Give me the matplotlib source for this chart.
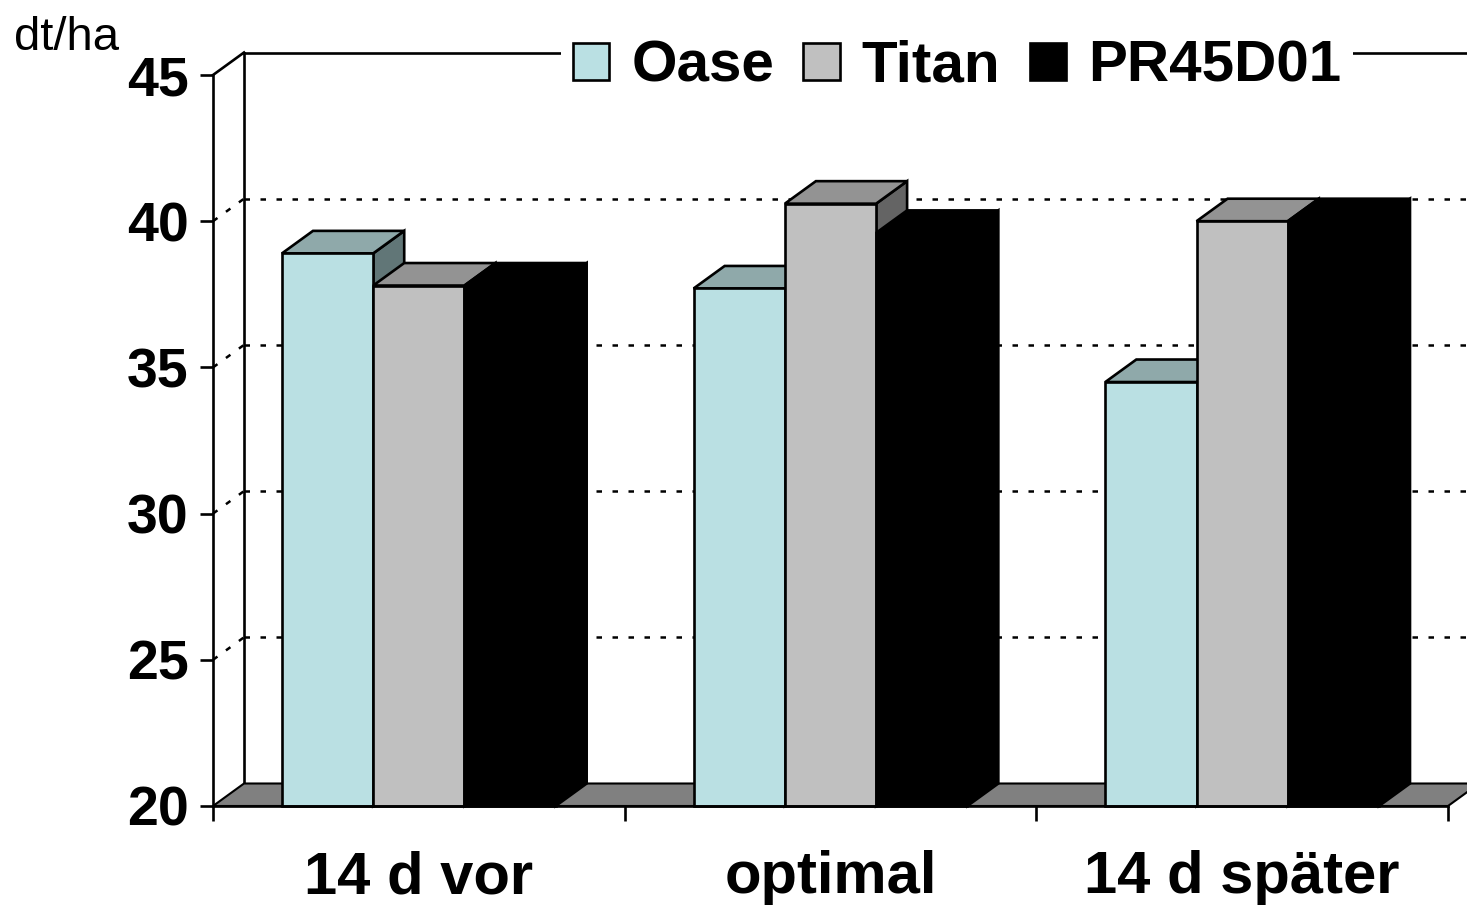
import matplotlib
matplotlib.use("Agg")
import matplotlib.pyplot as plt
from matplotlib.patches import Polygon, Patch

plt.rcParams['font.family'] = ['Liberation Sans', 'DejaVu Sans']

categories = ['14 d vor', 'optimal', '14 d später']
series = ['Oase', 'Titan', 'PR45D01']
oase = [38.9, 37.7, 34.5]
titan = [37.8, 40.6, 40.0]
pr45d01 = [37.8, 39.6, 40.0]
yticks = [20, 25, 30, 35, 40, 45]

# front, top, side colours for each series
colors = {
    'Oase': ('#bae0e3', '#8fa9aa', '#617677'),
    'Titan': ('#c0c0c0', '#939393', '#646464'),
    'PR45D01': ('#000000', '#000000', '#000000'),
}

W, H = 1467, 907
fig = plt.figure(figsize=(W / 100, H / 100), dpi=100)
ax = fig.add_axes([213 / W, 101 / H, 1235 / W, 731 / H])
ax.set_xlim(0, 3)
ax.set_ylim(20, 45)

# depth offset of the 3d look, in data units
dx = 31 / 411.7
dy = 22.5 / 29.24
ymin, ymax = 20, 45
xmax = len(categories)
lw = 1.9

# floor
floor = Polygon([(0, ymin), (xmax, ymin), (xmax + dx, ymin + dy), (dx, ymin + dy)],
                closed=True, facecolor='#808080', edgecolor='black', lw=1.5,
                zorder=1, clip_on=False)
ax.add_patch(floor)

# back wall grid
for v in yticks[1:-1]:
    ax.plot([0, dx], [v, v + dy], color='black', lw=1.8, ls=(0, (2.2, 4.2)),
            zorder=0.5, clip_on=False)
    ax.plot([dx, xmax + dx], [v + dy, v + dy], color='black', lw=1.8,
            ls=(0, (2.2, 4.2)), zorder=0.5, clip_on=False)
ax.plot([0, dx], [ymax, ymax + dy], color='black', lw=lw, zorder=0.5, clip_on=False)
ax.plot([dx, xmax + dx], [ymax + dy, ymax + dy], color='black', lw=lw,
        zorder=0.5, clip_on=False)
ax.plot([dx, dx], [ymin + dy, ymax + dy], color='black', lw=lw, zorder=0.5,
        clip_on=False)

# bars
bw = 0.2216
gap = (1 - 3 * bw) / 2
data = [oase, titan, pr45d01]
for i in range(len(categories)):
    for j, name in enumerate(series):
        v = data[j][i]
        x0 = i + gap + j * bw
        x1 = x0 + bw
        front, top, side = colors[name]
        z = 2 + i * 3 + j
        ax.add_patch(Polygon([(x1, ymin), (x1 + dx, ymin + dy), (x1 + dx, v + dy), (x1, v)],
                             facecolor=side, edgecolor='black', lw=lw, zorder=z,
                             clip_on=False, joinstyle='miter'))
        ax.add_patch(Polygon([(x0, v), (x1, v), (x1 + dx, v + dy), (x0 + dx, v + dy)],
                             facecolor=top, edgecolor='black', lw=lw, zorder=z,
                             clip_on=False, joinstyle='miter'))
        ax.add_patch(Polygon([(x0, ymin), (x1, ymin), (x1, v), (x0, v)],
                             facecolor=front, edgecolor='black', lw=lw, zorder=z,
                             clip_on=False, joinstyle='miter'))

# axes
for s in ['top', 'right']:
    ax.spines[s].set_visible(False)
for s in ['left', 'bottom']:
    ax.spines[s].set_linewidth(lw)
    ax.spines[s].set_zorder(20)
ax.set_facecolor('none')

ax.set_yticks(yticks)
ax.set_yticklabels([str(t) for t in yticks], fontsize=40, fontweight='bold')
ax.tick_params(axis='y', length=9.5, width=lw, pad=8)

ax.set_xticks(range(xmax + 1))
ax.set_xticklabels([])
ax.tick_params(axis='x', which='major', length=10.5, width=lw)
ax.set_xticks([i + 0.5 for i in range(xmax)], minor=True)
ax.set_xticklabels(categories, minor=True, fontsize=43, fontweight='bold')
ax.tick_params(axis='x', which='minor', length=0, pad=32)

fig.text(14 / W, 1 - 16 / H, 'dt/ha', fontsize=34, ha='left', va='top')

handles = [Patch(facecolor=colors[n][0], edgecolor='black', lw=lw) for n in series]
leg = fig.legend(handles, series, loc='center', bbox_to_anchor=(957 / W, 1 - 67 / H),
                 ncol=3, frameon=True, fancybox=False, framealpha=1,
                 prop={'size': 42, 'weight': 'bold'},
                 handlelength=0.62, handleheight=0.62, handletextpad=0.38,
                 columnspacing=0.5, borderpad=0.2, borderaxespad=0)
leg.get_frame().set_edgecolor('none')
leg.get_frame().set_facecolor('white')
leg.set_zorder(30)

fig.savefig('out.png', dpi=100)
